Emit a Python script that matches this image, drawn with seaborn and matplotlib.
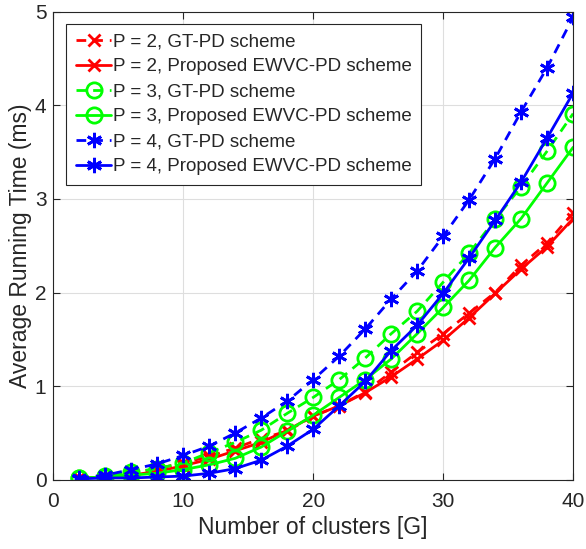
import numpy as np
import pandas as pd

import matplotlib
matplotlib.use("Agg")
import matplotlib.pyplot as plt
import seaborn as sns

# =====================================================
# DATA
# =====================================================

clusters = [2, 4, 6, 8, 10, 12, 14, 16, 18, 20,
            22, 24, 26, 28, 30, 32, 34, 36, 38, 40]

p2_gt = [0.02, 0.04, 0.07, 0.12, 0.18, 0.25, 0.34, 0.44, 0.52, 0.68,
         0.79, 0.94, 1.15, 1.36, 1.56, 1.78, 2.00, 2.29, 2.53, 2.85]
p2_ewvc = [0.02, 0.03, 0.05, 0.09, 0.15, 0.22, 0.31, 0.40, 0.53, 0.68,
           0.79, 0.93, 1.10, 1.29, 1.49, 1.73, 1.99, 2.25, 2.49, 2.79]
p3_gt = [0.02, 0.04, 0.08, 0.12, 0.18, 0.29, 0.40, 0.53, 0.71, 0.88,
         1.07, 1.30, 1.56, 1.80, 2.11, 2.42, 2.78, 3.13, 3.51, 3.91]
p3_ewvc = [0.02, 0.03, 0.05, 0.07, 0.11, 0.16, 0.23, 0.35, 0.52, 0.69,
           0.88, 1.07, 1.29, 1.56, 1.84, 2.13, 2.48, 2.79, 3.17, 3.55]
p4_gt = [0.02, 0.05, 0.11, 0.17, 0.26, 0.36, 0.50, 0.66, 0.84, 1.07,
         1.32, 1.61, 1.93, 2.23, 2.60, 2.99, 3.43, 3.93, 4.40, 4.94]
p4_ewvc = [0.01, 0.02, 0.02, 0.03, 0.04, 0.07, 0.12, 0.21, 0.36, 0.54,
           0.79, 1.05, 1.38, 1.65, 1.99, 2.37, 2.77, 3.18, 3.65, 4.13]

labels = [
    "P = 2, GT-PD scheme",
    "P = 2, Proposed EWVC-PD scheme",
    "P = 3, GT-PD scheme",
    "P = 3, Proposed EWVC-PD scheme",
    "P = 4, GT-PD scheme",
    "P = 4, Proposed EWVC-PD scheme",
]

# =====================================================
# SETTINGS
# =====================================================

sns.set_theme(style="ticks")
plt.rcParams["font.family"] = ["Liberation Sans", "DejaVu Sans"]

series = [p2_gt, p2_ewvc, p3_gt, p3_ewvc, p4_gt, p4_ewvc]
colors = ["#ff0000", "#ff0000", "#00ff00", "#00ff00", "#0000ff", "#0000ff"]
markers = ["x", "x", "o", "o", (6, 2, 0), (6, 2, 0)]
dashes = [(3.5, 2.5), "", (3.5, 2.5), "", (3.5, 2.5), ""]
msizes = [9, 9, 11, 11, 11, 11]

df = pd.DataFrame({
    "clusters": clusters * len(series),
    "time": np.concatenate(series),
    "scheme": np.repeat(labels, len(clusters)),
})

# =====================================================
# PLOT
# =====================================================

fig, ax = plt.subplots(figsize=(5.86, 5.49), dpi=100)
fig.subplots_adjust(left=0.091, right=0.978, top=0.979, bottom=0.126)

for i, lab in enumerate(labels):
    sub = df[df["scheme"] == lab]
    line_kw = dict(
        data=sub,
        x="clusters",
        y="time",
        ax=ax,
        color=colors[i],
        marker=markers[i],
        markersize=msizes[i],
        markerfacecolor="none" if markers[i] == "o" else colors[i],
        markeredgecolor=colors[i],
        markeredgewidth=2,
        linewidth=2,
        label=lab,
    )
    if dashes[i]:
        line_kw["dashes"] = dashes[i]
    sns.lineplot(**line_kw)

ax.set_xlim(0, 40)
ax.set_ylim(0, 5)
ax.set_xticks([0, 10, 20, 30, 40])
ax.set_yticks([0, 1, 2, 3, 4, 5])

ax.grid(True, color="#dedede", linewidth=0.8)
ax.set_axisbelow(True)

for side in ["top", "right", "left", "bottom"]:
    ax.spines[side].set_visible(True)
    ax.spines[side].set_color("#262626")
    ax.spines[side].set_linewidth(0.8)

ax.tick_params(
    direction="in",
    top=True,
    right=True,
    length=5,
    width=0.8,
    colors="#262626",
    labelsize=15,
    labelcolor="#262626",
)
ax.tick_params(axis="x", pad=8.5)
ax.tick_params(axis="y", pad=5)

ax.set_xlabel("Number of clusters [G]", fontsize=16.5, color="#262626")
ax.set_ylabel("Average Running Time (ms)", fontsize=16.5, color="#262626",
              labelpad=2)

leg = ax.legend(
    loc="upper left",
    bbox_to_anchor=(0.025, 0.974),
    borderaxespad=0,
    fontsize=13.5,
    fancybox=False,
    framealpha=1,
    edgecolor="#262626",
    handlelength=1.9,
    handletextpad=0.1,
    labelspacing=0.42,
    borderpad=0.5,
)
leg.get_frame().set_linewidth(0.8)

plt.savefig("out.png", dpi=100)
